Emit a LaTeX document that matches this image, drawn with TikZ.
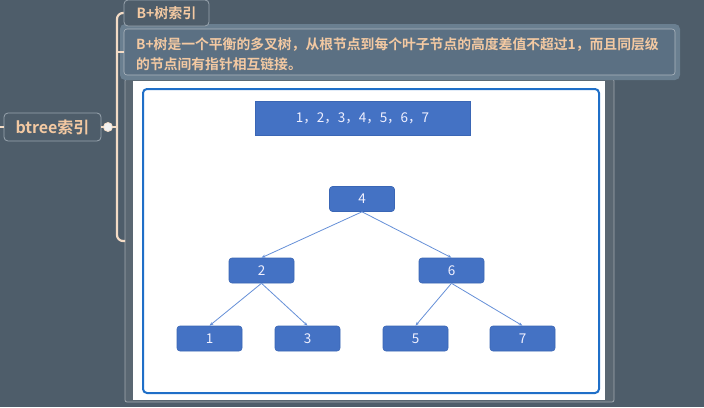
\documentclass[tikz,border=0pt]{standalone}
\usepackage{fontspec}
\newfontfamily\cjk{Noto Sans CJK SC}
\newfontfamily\cjkb{Noto Sans CJK SC}[BoldFont={* Bold}]
\usetikzlibrary{arrows.meta}
\definecolor{bg}{HTML}{4E5D6A}
\definecolor{peach}{HTML}{F3C9A2}
\definecolor{bracket}{HTML}{F4DCC6}
\definecolor{boxline}{HTML}{9AA5AF}
\definecolor{descfill}{HTML}{5B7083}
\definecolor{descglow}{HTML}{6A7F90}
\definecolor{framefill}{HTML}{5A6772}
\definecolor{frameline}{HTML}{A2A9B0}
\definecolor{bluefill}{HTML}{4472C4}
\definecolor{blueedge}{HTML}{3A66B5}
\definecolor{bluelink}{HTML}{6690D8}
\definecolor{blueframe}{HTML}{1F6FC8}
\tikzset{
  topicbox/.style={draw=boxline, line width=0.8pt, rounded corners=4pt, fill=bg,
    text=peach, font=\cjkb\bfseries\fontsize{14}{16}\selectfont, inner sep=0pt},
  treebox/.style={draw=blueedge, line width=0.6pt, fill=bluefill, rounded corners=3pt,
    minimum width=65pt, minimum height=25pt, inner sep=0pt, text=white!94!blue,
    font=\cjk\fontsize{13.5}{15}\selectfont},
  treelink/.style={draw=bluelink, line width=0.8pt, -{Stealth[length=4pt,width=3pt]}},
  bracketline/.style={draw=bracket, line width=2.2pt},
}
\begin{document}
\begin{tikzpicture}[x=1pt,y=-1pt]
\useasboundingbox (0,0) rectangle (704,407);
\fill[bg] (0,0) rectangle (704,407);

% image frame
\draw[frameline, fill=framefill, line width=0.8pt, rounded corners=2pt] (125,79) rectangle (614,402);
\fill[white] (133,81) rectangle (605,400);
\draw[blueframe, line width=2pt, rounded corners=4pt] (143,89) rectangle (599,393);

% description box
\fill[descglow, rounded corners=5pt] (120,24) rectangle (680,80);
\draw[boxline!80!white, fill=descfill, line width=0.6pt, rounded corners=3pt] (124,29) rectangle (675,75);
\node[anchor=west, align=left, text=peach, font=\cjkb\bfseries\fontsize{13.8}{20}\selectfont, inner sep=0pt]
  (desc) at (136,54.5) {B+树是一个平衡的多叉树，从根节点到每个叶子节点的高度差值不超过1，而且同层级\\的节点间有指针相互链接。};

% topic nodes
\node[topicbox, minimum width=97pt, minimum height=28pt, font=\cjkb\bfseries\fontsize{16}{18}\selectfont] (root) at (52.5,127) {btree索引};
\node[topicbox, minimum width=85pt, minimum height=26pt] (bplus) at (166.5,13) {B+树索引};

% connectors of the mind map
\coordinate (lft) at (0,127);
\coordinate (jn) at (117,127);
\coordinate (brtop) at (117,13);
\coordinate (brbot) at (117,241);
\coordinate (brend) at (125,241);
\coordinate (descin) at (124,52);
\draw[bracketline] (lft) -- (root.west);
\draw[bracketline] (root.east) -- (jn);
\draw[bracketline, rounded corners=6pt] (bplus.west) -- (brtop) -- (brbot) -- (brend);
\draw[bracketline] (117,52) -- (descin);
\node[circle, fill=white!92!bg, draw=bracket, line width=0.8pt, minimum size=9pt, inner sep=0pt] (knob) at (108,127) {};

% list box
\node[fill=bluefill, draw=blueedge, line width=0.6pt, minimum width=215pt, minimum height=34pt, inner sep=0pt,
  text=white!94!blue, font=\cjk\fontsize{13.5}{15}\selectfont] (list) at (362.5,118) {1，2，3，4，5，6，7};

% tree
\node[treebox] (n4) at (362,199) {4};
\node[treebox] (n2) at (261.5,270.5) {2};
\node[treebox] (n6) at (451.5,270.5) {6};
\node[treebox] (n1) at (209.5,338.5) {1};
\node[treebox] (n3) at (307.5,338.5) {3};
\node[treebox] (n5) at (415.5,338.5) {5};
\node[treebox] (n7) at (522.5,338.5) {7};

\draw[treelink] (n4.south) -- (n2.north);
\draw[treelink] (n4.south) -- (n6.north);
\draw[treelink] (n2.south) -- (n1.north);
\draw[treelink] (n2.south) -- (n3.north);
\draw[treelink] (n6.south) -- (n5.north);
\draw[treelink] (n6.south) -- (n7.north);
\end{tikzpicture}
\end{document}
